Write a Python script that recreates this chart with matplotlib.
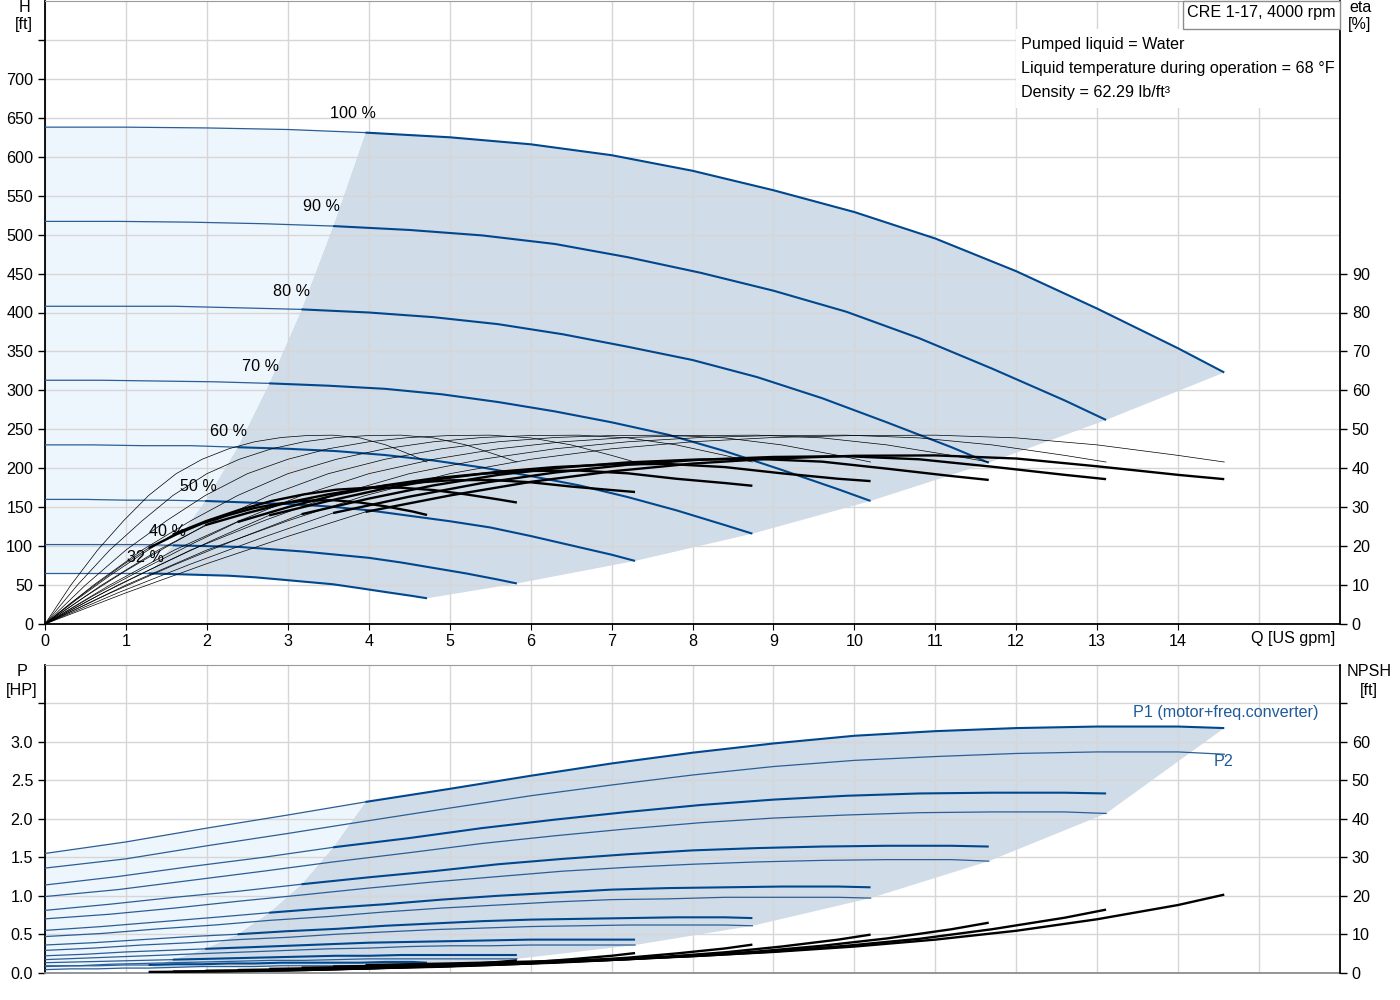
import numpy as np
import matplotlib
matplotlib.use("Agg")
from matplotlib import pyplot as plt
from matplotlib.patches import Rectangle

# ------------------------------------------------------------
# data (CRE 1-17, 4000 rpm)
# index 4 of each flow list = start of the allowed operating range
# ------------------------------------------------------------
speeds = ["100 %", "90 %", "80 %", "70 %", "60 %", "50 %", "40 %", "32 %"]

# flow [US gpm]
q100 = [0, 1, 2, 3, 3.96, 5, 6, 7, 8, 9, 10, 11, 12, 13, 14, 14.57]
q90 = [0, 0.9, 1.8, 2.7, 3.56, 4.5, 5.4, 6.3, 7.2, 8.1, 9, 9.9, 10.8, 11.7, 12.6, 13.11]
q80 = [0, 0.8, 1.6, 2.4, 3.17, 4, 4.8, 5.6, 6.4, 7.2, 8, 8.8, 9.6, 10.4, 11.2, 11.66]
q70 = [0, 0.7, 1.4, 2.1, 2.77, 3.5, 4.2, 4.9, 5.6, 6.3, 7, 7.7, 8.4, 9.1, 9.8, 10.2]
q60 = [0, 0.6, 1.2, 1.8, 2.38, 3, 3.6, 4.2, 4.8, 5.4, 6, 6.6, 7.2, 7.8, 8.4, 8.74]
q50 = [0, 0.5, 1, 1.5, 1.98, 2.5, 3, 3.5, 4, 4.5, 5, 5.5, 6, 6.5, 7, 7.29]
q40 = [0, 0.4, 0.8, 1.2, 1.58, 2, 2.4, 2.8, 3.2, 3.6, 4, 4.4, 4.8, 5.2, 5.6, 5.83]
q32 = [0, 0.32, 0.65, 0.97, 1.28, 1.62, 1.94, 2.27, 2.59, 2.92, 3.24, 3.56, 3.89, 4.21, 4.54, 4.72]

# head [ft]
h100 = [638, 638, 637, 635, 631, 625, 616, 602, 582, 557, 529, 495, 453, 405, 354, 323]
h90 = [517, 517, 516, 514, 511, 506, 499, 488, 471, 451, 428, 401, 367, 328, 287, 262]
h80 = [408, 408, 408, 406, 404, 400, 394, 385, 372, 356, 339, 317, 290, 259, 227, 207]
h70 = [313, 313, 312, 311, 309, 306, 302, 295, 285, 273, 259, 243, 222, 198, 173, 158]
h60 = [230, 230, 229, 229, 227, 225, 222, 217, 210, 201, 190, 178, 163, 146, 127, 116]
h50 = [160, 160, 159, 159, 158, 156, 154, 151, 146, 139, 132, 124, 113, 101, 89, 81]
h40 = [102, 102, 102, 102, 101, 100, 99, 96, 93, 89, 85, 79, 72, 65, 57, 52]
h32 = [65, 65, 65, 65, 65, 64, 63, 62, 60, 57, 54, 51, 46, 41, 36, 33]

# pump efficiency [%] (same shape for every speed)
eta_pump = [0, 10, 19, 26.5, 33, 38.6, 42.3, 45, 46.8, 47.9, 48.4, 48.5, 47.8, 46, 43.3, 41.6]

# total efficiency [%]
eta100 = [0, 8, 15.5, 22.5, 28.8, 33, 36.5, 39.2, 41.2, 42.5, 43.2, 43.3, 42.5, 40.5, 38.3, 37.2]
eta90 = [0, 8, 15.4, 22.3, 28.5, 32.7, 36.2, 38.9, 40.9, 42.2, 42.9, 43.1, 42.3, 40.4, 38.3, 37.2]
eta80 = [0, 7.9, 15.2, 22, 28.2, 32.2, 35.6, 38.3, 40.2, 41.5, 42.2, 42.4, 41.7, 39.9, 38, 37]
eta70 = [0, 7.8, 15, 21.8, 27.9, 31.6, 34.8, 37.3, 39.1, 40.3, 41, 41.1, 40.3, 38.7, 37.3, 36.7]
eta60 = [0, 7.3, 14, 20.4, 26.2, 30, 33.2, 35.6, 37.4, 38.6, 39.3, 39.4, 38.7, 37.3, 36.2, 35.5]
eta50 = [0, 7.1, 13.7, 19.8, 25.4, 28.5, 31.2, 33.3, 35, 36.2, 36.9, 37, 36.4, 35.3, 34.4, 33.9]
eta40 = [0, 6.4, 12.4, 18, 23, 26.5, 29.3, 31.6, 33.3, 34.5, 35, 35, 34.4, 33.3, 32, 31.2]
eta32 = [0, 5.4, 10.5, 15.3, 19.5, 23, 25.8, 28, 29.8, 31, 31.7, 31.8, 31.2, 30.2, 28.9, 28]

# P1 (motor + freq. converter) [HP]
p1_100 = [1.55, 1.70, 1.88, 2.05, 2.22, 2.39, 2.56, 2.72, 2.86, 2.98, 3.08, 3.14, 3.18, 3.20, 3.20, 3.18]
p1_90 = [1.14, 1.25, 1.38, 1.50, 1.63, 1.75, 1.88, 1.99, 2.09, 2.18, 2.25, 2.30, 2.33, 2.34, 2.34, 2.33]
p1_80 = [0.81, 0.89, 0.98, 1.06, 1.15, 1.24, 1.32, 1.41, 1.48, 1.54, 1.59, 1.62, 1.64, 1.65, 1.65, 1.64]
p1_70 = [0.55, 0.60, 0.66, 0.72, 0.78, 0.84, 0.89, 0.95, 1.00, 1.04, 1.08, 1.10, 1.11, 1.12, 1.12, 1.11]
p1_60 = [0.36, 0.39, 0.43, 0.47, 0.50, 0.54, 0.57, 0.61, 0.64, 0.67, 0.69, 0.70, 0.71, 0.72, 0.72, 0.71]
p1_50 = [0.22, 0.24, 0.27, 0.29, 0.31, 0.33, 0.35, 0.37, 0.39, 0.40, 0.41, 0.42, 0.43, 0.43, 0.43, 0.43]
p1_40 = [0.13, 0.14, 0.15, 0.16, 0.17, 0.18, 0.19, 0.20, 0.21, 0.22, 0.22, 0.23, 0.23, 0.23, 0.23, 0.23]
p1_32 = [0.08, 0.09, 0.09, 0.10, 0.10, 0.11, 0.11, 0.12, 0.12, 0.13, 0.13, 0.13, 0.13, 0.14, 0.14, 0.13]

# P2 (shaft) [HP]
p2_100 = [1.36, 1.48, 1.65, 1.81, 1.97, 2.14, 2.30, 2.44, 2.57, 2.68, 2.76, 2.81, 2.85, 2.87, 2.87, 2.84]
p2_90 = [0.99, 1.08, 1.20, 1.32, 1.44, 1.56, 1.68, 1.78, 1.87, 1.95, 2.01, 2.05, 2.08, 2.09, 2.09, 2.07]
p2_80 = [0.70, 0.76, 0.84, 0.93, 1.01, 1.10, 1.18, 1.25, 1.32, 1.37, 1.41, 1.44, 1.46, 1.47, 1.47, 1.45]
p2_70 = [0.47, 0.51, 0.57, 0.62, 0.68, 0.73, 0.79, 0.84, 0.88, 0.92, 0.95, 0.96, 0.98, 0.98, 0.98, 0.97]
p2_60 = [0.29, 0.32, 0.36, 0.39, 0.43, 0.46, 0.50, 0.53, 0.56, 0.58, 0.60, 0.61, 0.62, 0.62, 0.62, 0.61]
p2_50 = [0.17, 0.19, 0.21, 0.23, 0.25, 0.27, 0.29, 0.31, 0.32, 0.34, 0.35, 0.35, 0.36, 0.36, 0.36, 0.36]
p2_40 = [0.09, 0.09, 0.11, 0.12, 0.13, 0.14, 0.15, 0.16, 0.16, 0.17, 0.18, 0.18, 0.18, 0.18, 0.18, 0.18]
p2_32 = [0.04, 0.05, 0.05, 0.06, 0.06, 0.07, 0.08, 0.08, 0.08, 0.09, 0.09, 0.09, 0.09, 0.09, 0.09, 0.09]

# NPSH [ft], allowed range only (flow points 4..15)
npsh100 = [2.0, 2.4, 2.9, 3.5, 4.3, 5.4, 6.8, 8.6, 10.9, 13.9, 17.6, 20.3]
npsh90 = [1.6, 1.9, 2.3, 2.8, 3.5, 4.4, 5.5, 7.0, 8.8, 11.3, 14.3, 16.4]
npsh80 = [1.3, 1.5, 1.9, 2.2, 2.8, 3.5, 4.4, 5.5, 7.0, 8.9, 11.3, 13.0]
npsh70 = [1.0, 1.2, 1.4, 1.7, 2.1, 2.6, 3.3, 4.2, 5.3, 6.8, 8.6, 9.9]
npsh60 = [0.7, 0.9, 1.0, 1.3, 1.5, 1.9, 2.4, 3.1, 3.9, 5.0, 6.3, 7.3]
npsh50 = [0.5, 0.6, 0.7, 0.9, 1.1, 1.4, 1.7, 2.2, 2.7, 3.5, 4.4, 5.1]
npsh40 = [0.3, 0.4, 0.5, 0.6, 0.7, 0.9, 1.1, 1.4, 1.7, 2.2, 2.8, 3.2]
npsh32 = [0.2, 0.25, 0.3, 0.35, 0.45, 0.55, 0.7, 0.9, 1.1, 1.4, 1.8, 2.1]

qs = [q100, q90, q80, q70, q60, q50, q40, q32]
hs = [h100, h90, h80, h70, h60, h50, h40, h32]
etas = [eta100, eta90, eta80, eta70, eta60, eta50, eta40, eta32]
p1s = [p1_100, p1_90, p1_80, p1_70, p1_60, p1_50, p1_40, p1_32]
p2s = [p2_100, p2_90, p2_80, p2_70, p2_60, p2_50, p2_40, p2_32]
npshs = [npsh100, npsh90, npsh80, npsh70, npsh60, npsh50, npsh40, npsh32]

# ------------------------------------------------------------
# styling
# ------------------------------------------------------------
BLUE = "#00478d"
THIN_BLUE = "#2b5e96"
LIGHT = "#eef6fd"
DARK = "#d0dce8"
GRID = "#d6d6d6"
FS = 11.6
plt.rcParams["font.family"] = ["Liberation Sans", "DejaVu Sans"]
plt.rcParams["font.size"] = FS

W, H = 1400, 1000
fig = plt.figure(figsize=(14, 10), dpi=100)
ax = fig.add_axes([45 / W, 1 - 624 / H, 1295 / W, 623 / H])
ax2 = fig.add_axes([45 / W, 1 - 972.7 / H, 1295 / W, 307.7 / H])


def frame(a, twin, bottom_col):
    a.set_axisbelow(True)
    a.grid(True, color=GRID, lw=1)
    a.spines["top"].set_color("#9a9a9a")
    a.spines["right"].set_visible(False)
    a.spines["left"].set_linewidth(1.3)
    a.spines["bottom"].set_color(bottom_col)
    a.spines["bottom"].set_linewidth(1.3)
    for s in ["top", "left", "bottom"]:
        twin.spines[s].set_visible(False)
    twin.spines["right"].set_linewidth(1.3)
    a.tick_params(axis="y", direction="out", length=5, width=1, labelsize=FS)
    twin.tick_params(axis="y", direction="out", length=5, width=1, labelsize=FS)


# ---------------- top panel: H and eta ----------------
ax.set_xlim(0, 16)
ax.set_ylim(0, 800)
ax.set_xticks(range(16))
ax.set_xticklabels([str(i) for i in range(15)] + [""])
ax.tick_params(axis="x", direction="out", length=4, labelsize=FS)
ax.xaxis.get_major_ticks()[-1].tick1line.set_visible(False)
ax.set_yticks(range(0, 800, 50))
ax.set_yticklabels([str(v) for v in range(0, 750, 50)] + [""])
ax.yaxis.get_major_ticks()[-1].tick1line.set_visible(False)

axe = ax.twinx()
axe.set_ylim(0, 160)
axe.set_yticks(range(0, 100, 10))
frame(ax, axe, "black")

# operating area fills
dq = list(q100[4:]) + [q[-1] for q in qs[1:]] + q32[14:3:-1] + [q[4] for q in qs[6:0:-1]]
dh = list(h100[4:]) + [h[-1] for h in hs[1:]] + h32[14:3:-1] + [h[4] for h in hs[6:0:-1]]
ax.fill(dq, dh, color=DARK, lw=0, zorder=0.3)
lq = list(q100[:5]) + [q[4] for q in qs[1:]] + q32[3::-1]
lh = list(h100[:5]) + [h[4] for h in hs[1:]] + h32[3::-1]
ax.fill(lq, lh, color=LIGHT, lw=0, zorder=0.3)

for q, h in zip(qs, hs):
    ax.plot(q[:5], h[:5], color=THIN_BLUE, lw=0.9, zorder=3)
    ax.plot(q[4:], h[4:], color=BLUE, lw=1.5, zorder=3, solid_capstyle="butt")

for q, e in zip(qs, etas):
    axe.plot(q, eta_pump, color="black", lw=0.5)
    axe.plot(q[:5], e[:5], color="black", lw=0.5)
    axe.plot(q[4:], e[4:], color="black", lw=1.7, solid_capstyle="butt")

label_xy = [(3.8, 656), (3.42, 536), (3.04, 427), (2.66, 331),
            (2.27, 247), (1.89, 177), (1.51, 119), (1.24, 85)]
for name, (x, y) in zip(speeds, label_xy):
    ax.text(x, y, name, ha="center", va="center", fontsize=FS, zorder=4)

ax.text(15.42, -0.012, "Q [US gpm]", transform=ax.get_xaxis_transform(),
        ha="center", va="top", fontsize=FS)

# ---------------- bottom panel: P and NPSH ----------------
ax2.set_xlim(0, 16)
ax2.set_ylim(0, 4)
ax2.set_xticks(range(16))
ax2.tick_params(axis="x", length=0, labelbottom=False)
ax2.set_yticks(np.arange(0, 4, 0.5))
ax2.set_yticklabels(["0.0", "0.5", "1.0", "1.5", "2.0", "2.5", "3.0", ""])

axn = ax2.twinx()
axn.set_ylim(0, 80)
axn.set_yticks(range(0, 80, 10))
axn.set_yticklabels([str(v) for v in range(0, 70, 10)] + [""])
frame(ax2, axn, "#8c8c8c")

pq = list(q100[4:]) + [q[-1] for q in qs[1:]] + q32[14:3:-1] + [q[4] for q in qs[6:0:-1]]
pp = list(p1_100[4:]) + [p[-1] for p in p2s[1:]] + p2_32[14:3:-1] + [p[4] for p in p1s[6:0:-1]]
ax2.fill(pq, pp, color=DARK, lw=0, zorder=0.3)
lq2 = list(q100[:5]) + [q[4] for q in qs[1:]] + q32[4::-1]
lp2 = list(p1_100[:5]) + [p[4] for p in p1s[1:]] + p2_32[4::-1]
ax2.fill(lq2, lp2, color=LIGHT, lw=0, zorder=0.3)

for q, p1, p2 in zip(qs, p1s, p2s):
    ax2.plot(q, p2, color=THIN_BLUE, lw=0.9, zorder=3)
    ax2.plot(q[:5], p1[:5], color=THIN_BLUE, lw=0.9, zorder=3)
    ax2.plot(q[4:], p1[4:], color=BLUE, lw=1.5, zorder=3, solid_capstyle="butt")

for q, n in zip(qs, npshs):
    axn.plot(q[4:], n, color="black", lw=1.7, solid_capstyle="butt")

ax2.text(13.44, 3.38, "P1 (motor+freq.converter)", color="#1f5a9a",
         ha="left", va="center", fontsize=FS, zorder=4)
ax2.text(14.56, 2.74, "P2", color="#1f5a9a", ha="center", va="center",
         fontsize=FS, zorder=4)

# ---------------- axis captions and info boxes ----------------
fig.text(24 / W, 1 - 8 / H, "H", ha="center", va="center")
fig.text(24 / W, 1 - 25 / H, "[ft]", ha="center", va="center")
fig.text(1360 / W, 1 - 8 / H, "eta", ha="center", va="center")
fig.text(1360 / W, 1 - 25 / H, "[%]", ha="center", va="center")
fig.text(22 / W, 1 - 672 / H, "P", ha="center", va="center")
fig.text(22 / W, 1 - 690 / H, "[HP]", ha="center", va="center")
fig.text(1369 / W, 1 - 672 / H, "NPSH", ha="center", va="center")
fig.text(1369 / W, 1 - 690 / H, "[ft]", ha="center", va="center")

fig.add_artist(Rectangle((1016 / W, 1 - 108 / H), 323 / W, 79 / H,
                         transform=fig.transFigure, fc="white", ec="none", zorder=5))
fig.add_artist(Rectangle((1183 / W, 1 - 29 / H), 157 / W, 28.5 / H,
                         transform=fig.transFigure, fc="white", ec="#8c8c8c",
                         lw=1, zorder=5))
fig.text(1261 / W, 1 - 12 / H, "CRE 1-17, 4000 rpm", ha="center", va="center", zorder=6)
info = ["Pumped liquid = Water",
        "Liquid temperature during operation = 68 °F",
        "Density = 62.29 lb/ft³"]
for i, line in enumerate(info):
    fig.text(1021 / W, 1 - (44 + 24 * i) / H, line, ha="left", va="center", zorder=6)

fig.savefig("out.png", dpi=100)
